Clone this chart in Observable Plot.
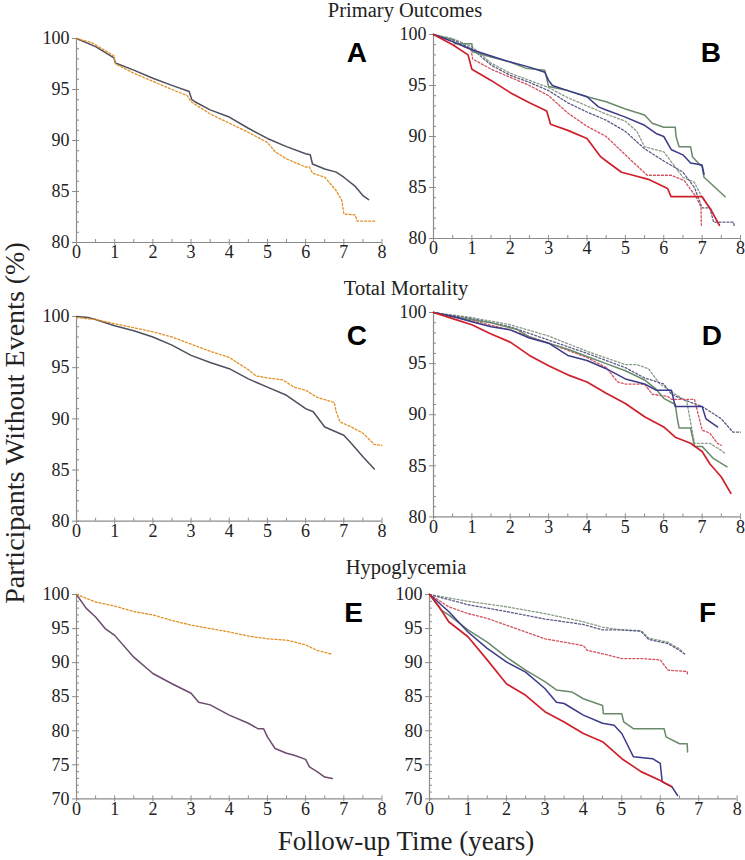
<!DOCTYPE html>
<html><head><meta charset="utf-8">
<script src="https://cdn.jsdelivr.net/npm/d3@7"></script>
<script src="https://cdn.jsdelivr.net/npm/@observablehq/plot@0.6"></script>
<style>
body{margin:0;background:#fff}
#root{position:relative;width:745px;height:860px;overflow:hidden;background:#fff}
#root svg{position:absolute}
#root svg text{font-family:"Liberation Serif","Times New Roman",serif}
#root svg text.letter{font-family:"Liberation Sans",Arial,sans-serif}
</style></head><body><div id="root"></div>
<script>
// ---------- DATA (time in years, % without events) ----------
const xTicks = [0,1,2,3,4,5,6,7,8];
const titles = ["Primary Outcomes","Total Mortality","Hypoglycemia"];
const yAxisLabel = "Participants Without Events (%)";
const xAxisLabel = "Follow-up Time (years)";
const letters = ["A","B","C","D","E","F"];

// Panel A
const A_solid = [[0,100],[0.5,99.2],[0.98,98.1],[1.02,97.6],[1.5,96.9],[2,96.1],[2.5,95.4],[2.95,94.8],[3.02,94.0],[3.1,93.8],[3.5,93.0],[4,92.3],[4.5,91.2],[5,90.2],[5.5,89.4],[6,88.7],[6.12,88.6],[6.18,87.7],[6.5,87.2],[6.8,86.9],[7,86.4],[7.3,85.5],[7.5,84.6],[7.65,84.2]];
const A_dotted = [[0,100],[0.4,99.6],[0.98,98.3],[1.02,97.5],[1.5,96.6],[2,95.8],[2.5,95.0],[2.9,94.4],[3.0,93.8],[3.5,92.6],[4,91.7],[4.5,90.8],[5,89.8],[5.2,88.9],[5.5,88.2],[6,87.4],[6.1,87.4],[6.18,86.8],[6.5,86.4],[6.8,85.1],[6.95,84.1],[7.0,82.8],[7.3,82.7],[7.35,82.1],[7.85,82.1]];
// Panel B
const B_green = [[0,100],[0.5,99.5],[0.55,99.1],[1,99.1],[1.02,98.3],[1.5,97.8],[2,97.3],[2.4,96.7],[2.9,96.5],[3.0,94.9],[3.5,94.5],[4,93.9],[4.5,93.4],[5,92.7],[5.5,92.1],[5.7,91.3],[6,90.9],[6.3,90.9],[6.32,90.0],[6.4,89.0],[6.7,89.0],[6.75,88.0],[7.0,87.0],[7.05,86.0],[7.6,84.1]];
const B_blue = [[0,100],[0.5,99.3],[1,98.5],[1.5,97.9],[2,97.3],[2.5,96.8],[2.9,96.3],[3.0,95.5],[3.1,95.0],[3.5,94.5],[4,93.9],[4.3,92.9],[4.5,92.6],[5,91.9],[5.5,91.1],[5.8,90.3],[6,90.0],[6.2,88.7],[6.5,88.2],[6.7,87.4],[7.0,87.2],[7.05,86.3]];
const B_red = [[0,100],[0.5,99.0],[0.9,98.0],[1.0,96.6],[1.5,95.5],[2,94.3],[2.5,93.3],[2.95,92.5],[3.05,91.2],[3.5,90.6],[4,89.8],[4.36,88.0],[4.5,87.6],[4.9,86.5],[5.2,86.2],[5.6,85.8],[6.1,84.9],[6.19,84.1],[7.0,84.1],[7.23,82.8],[7.45,81.3]];
const B_red_d = [[0,100],[0.5,99.3],[0.98,98.5],[1.02,97.6],[1.5,96.6],[2,95.8],[2.5,95.0],[3,94.0],[3.5,92.3],[4,91.0],[4.5,90.0],[5.14,87.7],[5.57,86.2],[6.19,86.2],[6.53,85.7],[6.84,84.1],[6.97,83.1],[6.98,81.3]];
const B_blue_d = [[0,100],[0.5,99.5],[1,98.6],[1.5,97.0],[2,96.0],[2.5,95.3],[3,94.5],[3.5,93.3],[4,92.4],[4.5,91.6],[5,90.5],[5.5,88.8],[6,87.6],[6.5,86.5],[6.8,85.0],[7.0,83.0],[7.2,83.0],[7.3,81.6],[7.82,81.6],[7.84,81.1]];
const B_green_d = [[0,100],[0.5,99.6],[1,98.8],[1.5,97.2],[2,96.2],[2.5,95.5],[3,94.8],[3.5,93.8],[4,93.0],[4.5,92.2],[5,91.5],[5.3,90.5],[5.5,89.0],[6,88.5],[6.3,87.0],[6.5,86.0],[6.8,85.5],[7,84.0],[7.25,82.8]];
// Panel C
const C_solid = [[0,100],[0.3,99.9],[0.5,99.7],[1,99.1],[1.5,98.6],[2,98.0],[2.5,97.2],[3,96.2],[3.5,95.5],[4,94.9],[4.5,93.9],[5,93.1],[5.5,92.3],[6,91.0],[6.2,90.7],[6.5,89.2],[7,88.4],[7.2,87.6],[7.5,86.3],[7.8,85.1]];
const C_dotted = [[0,99.9],[0.5,99.7],[1,99.3],[1.5,98.9],[2,98.5],[2.5,98.0],[3,97.3],[3.5,96.6],[4,96.0],[4.5,94.8],[4.7,94.2],[5,94.0],[5.4,93.8],[5.7,93.1],[6,92.8],[6.3,92.1],[6.75,91.6],[6.8,90.7],[6.9,89.7],[7.2,89.2],[7.5,88.6],[7.8,87.5],[8,87.4]];
// Panel D
const D_red = [[0,100],[0.5,99.4],[1,98.8],[1.5,97.9],[2,97.1],[2.5,95.8],[3,94.8],[3.5,93.9],[4,93.2],[4.5,92.1],[5,91.1],[5.5,89.8],[6,88.8],[6.3,87.8],[6.7,87.2],[7,86.4],[7.2,85.2],[7.5,83.9],[7.75,82.3]];
const D_blue = [[0,100],[0.5,99.6],[1,99.1],[1.5,98.6],[2,98.3],[2.5,97.5],[3,97.0],[3.5,95.8],[4,95.3],[4.5,94.5],[5,93.5],[5.5,93.0],[5.8,92.4],[6.2,92.4],[6.3,90.8],[7.0,90.8],[7.1,89.6],[7.4,88.8]];
const D_green = [[0,100],[0.5,99.6],[1,99.3],[1.5,99.0],[2,98.5],[2.2,98.3],[2.5,97.6],[3,97.0],[3.5,96.4],[4,95.7],[4.5,95.0],[5,94.3],[5.5,93.4],[5.8,92.5],[6.0,91.6],[6.3,91.0],[6.35,89.7],[6.4,88.7],[6.7,88.7],[6.8,86.9],[7.0,86.9],[7.3,85.7],[7.65,84.9]];
const D_red_d = [[0,100],[1,99.2],[2,98.3],[3,97.0],[4,95.6],[4.5,94.6],[4.8,93.2],[5,93.0],[5.5,93.0],[5.7,92.0],[6.1,91.8],[6.2,91.5],[6.8,91.5],[6.9,90.0],[7.0,88.5],[7.2,88.2],[7.4,87.2],[7.5,87.0]];
const D_blue_d = [[0,100],[1,99.4],[2,98.6],[3,97.3],[4,96.0],[5,94.6],[5.5,93.6],[6.0,93.0],[6.2,92.0],[6.5,91.5],[7,90.8],[7.5,89.6],[7.8,88.3],[8.0,88.3]];
const D_green_d = [[0,100],[1,99.5],[2,98.8],[3,97.7],[4,96.2],[5,94.9],[5.3,94.9],[5.6,94.5],[5.9,93.0],[6.3,92.0],[6.6,91.3],[6.8,87.2],[7.2,87.2],[7.5,86.5],[7.6,86.2]];
// Panel E
const E_solid = [[0,100],[0.25,98.0],[0.5,96.7],[0.75,95.0],[1,94.0],[1.5,90.8],[2,88.4],[2.5,86.9],[3,85.5],[3.2,84.2],[3.5,83.8],[4,82.3],[4.5,81.1],[4.75,80.3],[4.9,80.3],[5,79.1],[5.2,77.4],[5.5,76.7],[5.7,76.4],[6.0,75.8],[6.1,74.7],[6.3,74.0],[6.5,73.2],[6.7,73.0]];
const E_dotted = [[0,100],[0.5,98.9],[1,98.3],[1.5,97.5],[2,97.0],[2.5,96.2],[3,95.5],[3.5,95.0],[4,94.5],[4.5,93.9],[5,93.5],[5.5,93.3],[6,92.6],[6.3,91.8],[6.7,91.2]];
// Panel F
const F_red = [[0,100],[0.25,98.2],[0.5,96.0],[1,93.8],[1.5,90.4],[2,86.9],[2.5,85.2],[3,82.8],[3.5,81.3],[4,79.6],[4.5,78.4],[5,75.9],[5.5,74.0],[6,72.7],[6.3,71.8]];
const F_blue = [[0,100],[0.5,97.5],[1,94.5],[1.5,92.1],[2,90.1],[2.5,88.6],[3,86.2],[3.3,84.2],[3.5,84.0],[4,82.3],[4.5,81.1],[4.8,80.8],[5,79.6],[5.3,76.2],[5.8,75.9],[6.0,75.2],[6.05,72.5],[6.3,71.8],[6.45,70.5]];
const F_green = [[0,100],[0.3,97.7],[0.5,97.0],[1,94.8],[1.5,93.0],[2,90.8],[2.5,88.9],[3,87.2],[3.3,86.0],[3.7,85.7],[4,84.7],[4.5,83.7],[4.52,82.5],[5,82.5],[5.05,81.3],[5.3,80.3],[6.1,80.3],[6.15,79.1],[6.5,78.1],[6.7,78.1],[6.71,76.9]];
const F_green_d = [[0,100],[1,99.0],[2,98.2],[3,97.2],[4,96.0],[4.5,95.2],[5,94.8],[5.5,94.7],[5.7,93.6],[6.2,93.0],[6.5,92.0],[6.6,91.5]];
const F_blue_d = [[0,100],[1,98.5],[2,97.5],[3,96.4],[4,95.6],[4.5,94.8],[5,94.8],[5.5,94.6],[5.7,93.4],[6.2,92.8],[6.5,91.8],[6.65,91.2]];
const F_red_d = [[0,100],[0.5,98.2],[1,97.2],[1.5,96.5],[2,95.5],[2.5,94.5],[3,93.5],[3.5,93.0],[4,92.5],[4.1,91.8],[4.5,91.3],[5,90.6],[5.5,90.6],[6,90.4],[6.2,88.9],[6.7,88.7],[6.71,88.2]];

// ---------- STYLES ----------
const SERIF = "Liberation Serif";
const SANS = "Liberation Sans";
const AXIS = "#8c8c8c";
const C = {gray:"#4f4f5f", orange:"#e39024", red:"#cf1f2b", blue:"#3a3a8a", green:"#6a8a6a", purple:"#6c4b6e",
           redD:"#d4505e", blueD:"#5c5c88", greenD:"#889c88"};
const solid = (data, stroke, w=1.5) => ({data, stroke, w, dash:null});
const dotted = (data, stroke, w=1.3) => ({data, stroke, w, dash:"2,2"});

const panels = [
  {left:76, right:381.5, top:38.3, bottom:242.3, y:[80,100], series:[solid(A_solid,C.gray), dotted(A_dotted,C.orange)]},
  {left:433, right:740, top:34.3, bottom:238.3, y:[80,100], series:[dotted(B_green_d,C.greenD), dotted(B_blue_d,C.blueD), dotted(B_red_d,C.redD), solid(B_green,C.green), solid(B_blue,C.blue), solid(B_red,C.red,1.7)]},
  {left:76, right:381.5, top:316, bottom:520.7, y:[80,100], series:[solid(C_solid,C.gray), dotted(C_dotted,C.orange)]},
  {left:433, right:740, top:312.3, bottom:516.7, y:[80,100], series:[dotted(D_green_d,C.greenD), dotted(D_blue_d,C.blueD), dotted(D_red_d,C.redD), solid(D_green,C.green), solid(D_blue,C.blue), solid(D_red,C.red,1.7)]},
  {left:76, right:381.5, top:594.3, bottom:798.7, y:[70,100], series:[solid(E_solid,C.purple), dotted(E_dotted,C.orange)]},
  {left:429.3, right:737, top:594.3, bottom:798.7, y:[70,100], series:[dotted(F_green_d,C.greenD), dotted(F_blue_d,C.blueD), dotted(F_red_d,C.redD), solid(F_green,C.green), solid(F_blue,C.blue), solid(F_red,C.red,1.7)]}
];

const root = document.getElementById("root");
const mL = 48, mR = 14, mT = 12, mB = 30;
panels.forEach(p => {
  const [y0, y1] = p.y;
  const svg = Plot.plot({
    width: p.right - p.left + mL + mR,
    height: p.bottom - p.top + mT + mB,
    marginLeft: mL, marginRight: mR, marginTop: mT, marginBottom: mB,
    x: {domain: [0, 8], label: null},
    y: {domain: [y0, y1], label: null},
    style: {background: "transparent", overflow: "visible", color: "#222"},
    marks: [
      Plot.axisY(d3.range(y0, y1 + 0.01, 1), {anchor: "left", tickSize: -3, label: null, stroke: AXIS, fill: "none"}),
      Plot.axisY(d3.range(y0, y1 + 0.01, 5), {anchor: "left", tickSize: 4, tickPadding: 3, fontSize: 18, fontFamily: SERIF, label: null, stroke: AXIS, fill: "#222"}),
      Plot.axisX(d3.range(0, 8.01, 0.5), {anchor: "bottom", tickSize: -3, label: null, stroke: AXIS, fill: "none"}),
      Plot.axisX(xTicks, {anchor: "bottom", tickSize: 3, tickPadding: 0, fontSize: 18, fontFamily: SERIF, label: null, stroke: AXIS, fill: "#222"}),
      Plot.ruleX([0], {stroke: AXIS, strokeWidth: 1.2}),
      Plot.ruleY([y0], {stroke: AXIS, strokeWidth: 1.2}),
      ...p.series.map(s => Plot.line(s.data, {x: d => d[0], y: d => d[1], stroke: s.stroke, strokeWidth: s.w, strokeDasharray: s.dash}))
    ]
  });
  svg.style.left = (p.left - mL) + "px";
  svg.style.top = (p.top - mT) + "px";
  root.appendChild(svg);
});

// ---------- overlay text ----------
const ov = d3.create("svg").attr("width", 745).attr("height", 860).style("left","0px").style("top","0px").style("pointer-events","none");
const titlePos = [[405,17],[406,295],[406,574]];
titles.forEach((t,i) => ov.append("text").attr("x", titlePos[i][0]).attr("y", titlePos[i][1]).attr("text-anchor","middle")
  .attr("font-family", SERIF).attr("font-size", 20.5).attr("fill","#222").text(t));
ov.append("text").attr("transform","translate(24,423) rotate(-90)").attr("text-anchor","middle")
  .attr("font-family", SERIF).attr("font-size", 28).attr("fill","#222").text(yAxisLabel);
ov.append("text").attr("x",406).attr("y",850).attr("text-anchor","middle")
  .attr("font-family", SERIF).attr("font-size", 27).attr("fill","#222").text(xAxisLabel);
const letterPos = [[367,62],[721,62],[367,345],[722,345],[363,622],[716,622]];
letters.forEach((l,i) => ov.append("text").attr("class","letter").attr("x", letterPos[i][0]).attr("y", letterPos[i][1]).attr("text-anchor","end")
  .attr("font-family", SANS).attr("font-weight","bold").attr("font-size", 28).attr("fill","#000").text(l));
root.appendChild(ov.node());
</script></body></html>
